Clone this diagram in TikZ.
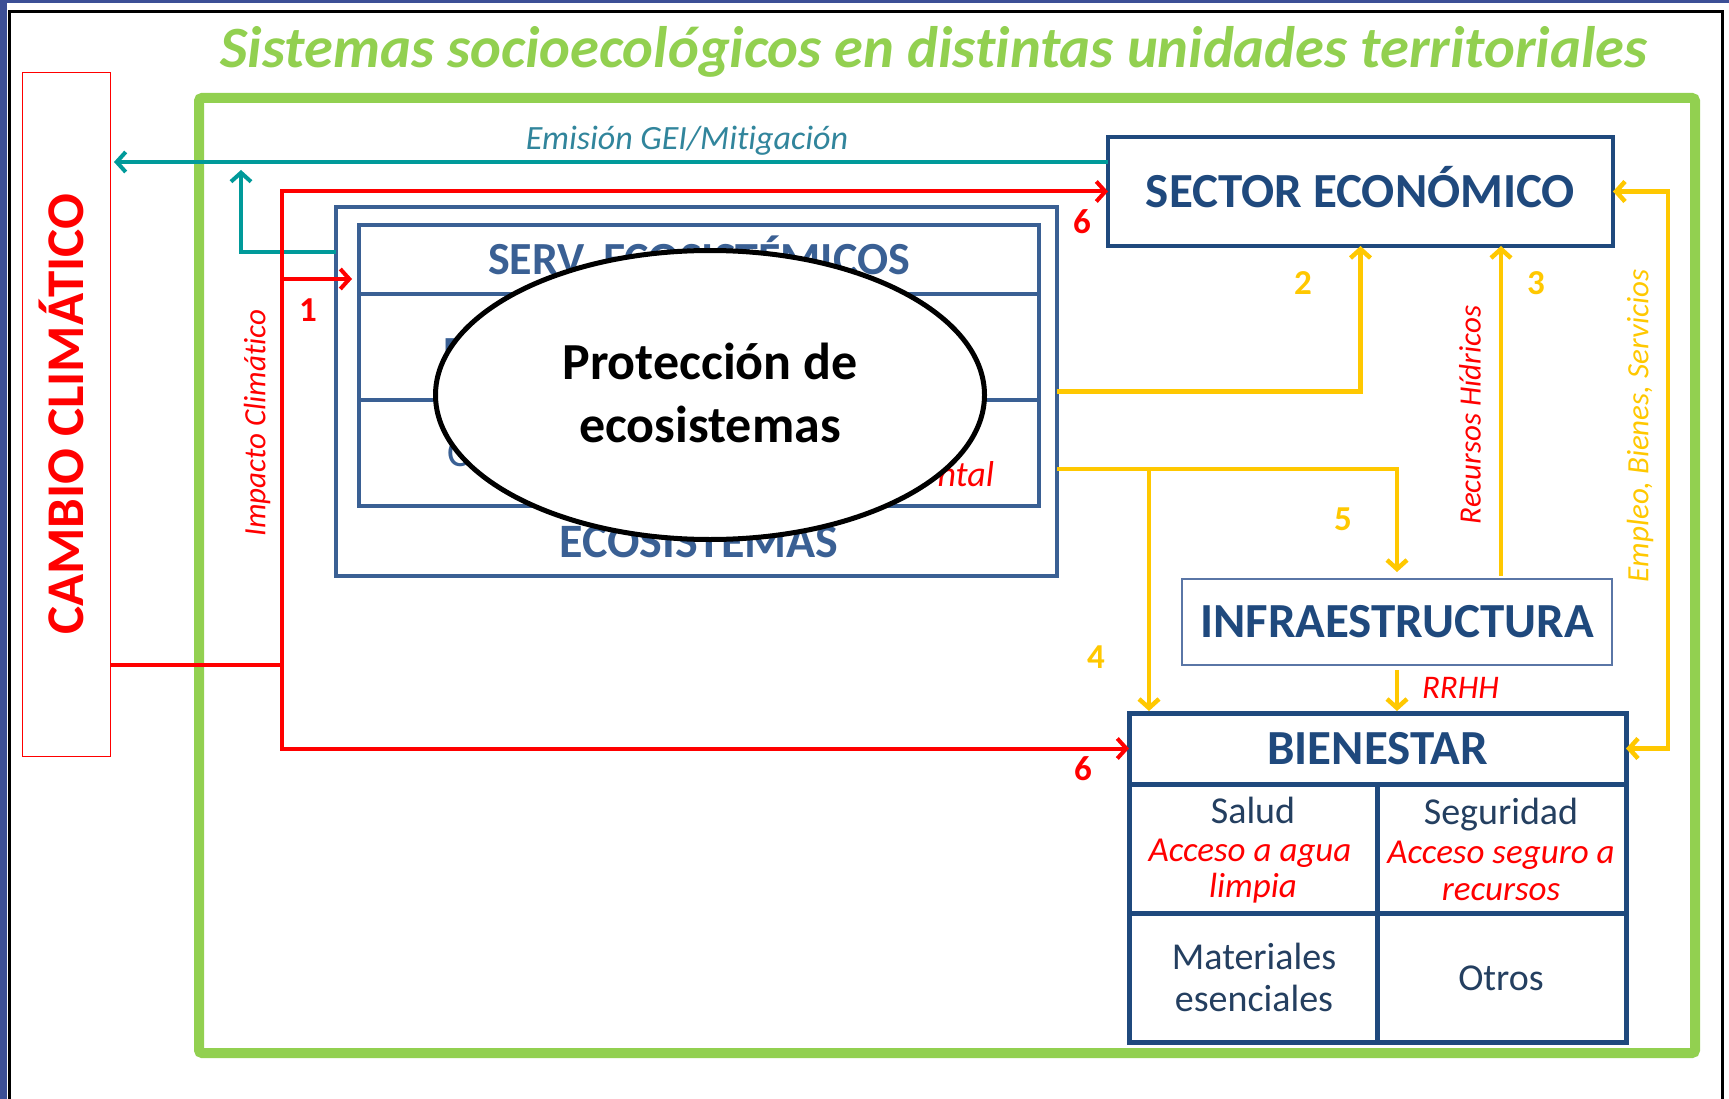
\documentclass[tikz,border=0pt]{standalone}
\usepackage{fontspec}
\setmainfont{Carlito}[Ligatures=NoCommon]
\usetikzlibrary{arrows.meta,shapes.geometric,calc}
\definecolor{lgreen}{HTML}{92D050}
\definecolor{teal1}{HTML}{009A9A}
\definecolor{tealtxt}{HTML}{31859C}
\definecolor{ecoblue}{HTML}{3A6094}
\definecolor{dblue}{HTML}{1F497D}
\definecolor{infrablue}{HTML}{5A76A6}
\definecolor{ylw}{HTML}{FFC800}
\definecolor{frameblue}{HTML}{3C4F96}
\definecolor{txtblue}{HTML}{243F60}
\newcommand{\fsz}[1]{\fontsize{#1}{#1}\selectfont}
\begin{document}
\begin{tikzpicture}[x=1pt,y=-1pt,
  every node/.style={inner sep=0pt, outer sep=0pt},
  caps/.style={text height=#1, text depth=0pt},
  redline/.style={draw=red, line width=4pt},
  yline/.style={draw=ylw, line width=4.5pt},
  tline/.style={draw=teal1, line width=4pt},
  tip/.style={-{Straight Barb[length=9pt,width=20pt]}},
  tiptwo/.style={{Straight Barb[length=9pt,width=20pt]}-{Straight Barb[length=9pt,width=20pt]}},
  numlbl/.style={font=\fsz{35}\bfseries},
  boxtitle/.style={caps=31.2pt, text=dblue, font=\fsz{49}\bfseries},
  celltxt/.style={anchor=base, text=txtblue, font=\fsz{38}},
  cellred/.style={anchor=base, text=red, font=\fsz{35}\itshape},
  lbl/.style={font=\fsz{31}\itshape}]
\useasboundingbox (0,0) rectangle (1729,1099);
% frame
\fill[white] (0,0) rectangle (1729,1099);
\fill[frameblue] (0,0) rectangle (1729,3);
\fill[frameblue] (0,0) rectangle (7,1099);
\draw[black, line width=3pt] (9,1099) -- (9,12) -- (1722,12) -- (1722,1099);
% title
\node[text=lgreen, font=\fsz{58.5}\bfseries\itshape, anchor=base] (title) at (934,68) {Sistemas socioecológicos en distintas unidades territoriales};
% green frame
\draw[lgreen, line width=10pt, rounded corners=3pt] (199,98) rectangle (1695,1053);
% cambio climatico
\node[draw=red, line width=1pt, minimum width=88pt, minimum height=683pt] (cc) at (66,414.5) {};
\node[rotate=90, caps=34pt, text=red, font=\fsz{53}\bfseries] (cctext) at (cc.center) {CAMBIO CLIMÁTICO};
% sector economico
\node[draw=dblue, line width=4pt, minimum width=505pt, minimum height=109pt, boxtitle] (sector) at (1360.5,191.5) {SECTOR ECONÓMICO};
% ecosistemas
\node[draw=ecoblue, line width=4pt, minimum width=721pt, minimum height=369pt] (eco) at (696.5,391.5) {};
\node[draw=ecoblue, line width=4pt, minimum width=680pt, minimum height=69pt, caps=29.6pt, text=ecoblue, font=\fsz{46}\bfseries] (srow1) at (699,259.5) {SERV. ECOSISTÉMICOS};
\node[draw=ecoblue, line width=4pt, minimum width=680pt, minimum height=106pt] (srow2) at (699,347) {};
\node[draw=ecoblue, line width=4pt, minimum width=680pt, minimum height=106pt] (srow3) at (699,453) {};
\node[anchor=base west, text=ecoblue, font=\fsz{46}\bfseries] (frP) at (443,368) {P};
\node[anchor=base west, text=ecoblue, font=\fsz{42}] (frC) at (447,466) {C};
\node[anchor=base east, text=red, font=\fsz{36}\itshape] (frN) at (994,486) {ntal};
\node[caps=31pt, text=ecoblue, font=\fsz{48}\bfseries] (ecotext) at (699,542) {ECOSISTEMAS};
% ellipse
\node[ellipse, draw=black, fill=white, line width=5pt, minimum width=549pt, minimum height=289pt] (prot) at (710,395) {};
\node[align=center, font=\fontsize{52}{63}\selectfont\bfseries] (prottext) at (710,392.5) {Protección de\\ecosistemas};
% infraestructura
\node[draw=infrablue, line width=1.5pt, minimum width=430pt, minimum height=86pt, boxtitle] (infra) at (1397,622) {INFRAESTRUCTURA};
% bienestar
\node[draw=dblue, line width=5pt, minimum width=497pt, minimum height=71pt, boxtitle] (bienhead) at (1377.5,748.5) {BIENESTAR};
\node[draw=dblue, line width=5pt, minimum width=248pt, minimum height=129pt] (c11) at (1253,848.5) {};
\node[draw=dblue, line width=5pt, minimum width=249pt, minimum height=129pt] (c12) at (1501.5,848.5) {};
\node[draw=dblue, line width=5pt, minimum width=248pt, minimum height=129pt] (c21) at (1253,977.5) {};
\node[draw=dblue, line width=5pt, minimum width=249pt, minimum height=129pt] (c22) at (1501.5,977.5) {};
\node[celltxt] (tsalud) at (1253,823) {Salud};
\node[cellred] (tagua) at (1250,861) {Acceso a agua};
\node[cellred] (tlimpia) at (1253,897) {limpia};
\node[celltxt] (tseg) at (1501,824) {Seguridad};
\node[cellred] (tacc) at (1501,863) {Acceso seguro a};
\node[cellred] (trec) at (1501,900) {recursos};
\node[celltxt] (tmat) at (1254,969) {Materiales};
\node[celltxt] (tesen) at (1254,1011) {esenciales};
\node[celltxt] (totros) at (1501,990) {Otros};
% coordinates
\coordinate (em) at (0,162);
\coordinate (t2s) at (0,252);
\coordinate (t2) at (241,170);
\coordinate (rj) at (282,665);
\coordinate (r1) at (352,279);
\coordinate (y5) at (0,469);
\coordinate (j4) at (1149,469);
\coordinate (x3) at (1501,0);
\coordinate (xr) at (1668,0);
% teal connectors
\draw[tline, tip, shorten >=4pt] (sector.west |- em) -- (cc.east |- em);
\draw[tline, tip] (eco.west |- t2s) -| (t2);
% red connectors
\draw[redline] (cc.east |- rj) -- (rj);
\draw[redline, tiptwo] (sector.west) -- (rj |- sector.west) -- (rj |- bienhead.west) -- (bienhead.west);
\draw[redline, tip] (rj |- r1) -- (r1);
% yellow connectors
\draw[yline, tip] (eco.east) -| (sector.south);
\draw[yline, tip, shorten >=7pt] (eco.east |- y5) -| (infra.north);
\draw[yline, tip, shorten >=2pt] (j4) -- (j4 |- bienhead.north);
\draw[yline, tip, shorten <=3pt] (x3 |- infra.north) -- (x3 |- sector.south);
\draw[yline, tip, shorten <=5pt, shorten >=2pt] (infra.south) -- (infra.south |- bienhead.north);
\draw[yline, tiptwo] (sector.east) -- (xr |- sector.east) -- (xr |- bienhead.east) -- (bienhead.east);
% labels
\node[numlbl, text=red] (n6a) at (1082,222) {6};
\node[numlbl, text=red] (n6b) at (1083,769) {6};
\node[numlbl, text=red] (n1) at (308,310) {1};
\node[numlbl, text=ylw] (n2) at (1303,283) {2};
\node[numlbl, text=ylw] (n3) at (1536,283) {3};
\node[numlbl, text=ylw] (n4) at (1096,657) {4};
\node[numlbl, text=ylw] (n5) at (1343,519) {5};
\node[lbl, rotate=90, text=red] (impacto) at (257,423) {Impacto Climático};
\node[lbl, rotate=90, text=red] (recursos) at (1470,415) {Recursos Hídricos};
\node[lbl, rotate=90, text=ylw, font=\fsz{31}\itshape] (empleo) at (1640,426) {Empleo, Bienes, Servicios};
\node[lbl, anchor=west, text=red, font=\fsz{33}\itshape] (rrhh) at (1422,688) {RRHH};
\node[lbl, anchor=base, text=tealtxt, font=\fsz{34}\itshape] (emlbl) at (687,150) {Emisión GEI/Mitigación};
\end{tikzpicture}
\end{document}
